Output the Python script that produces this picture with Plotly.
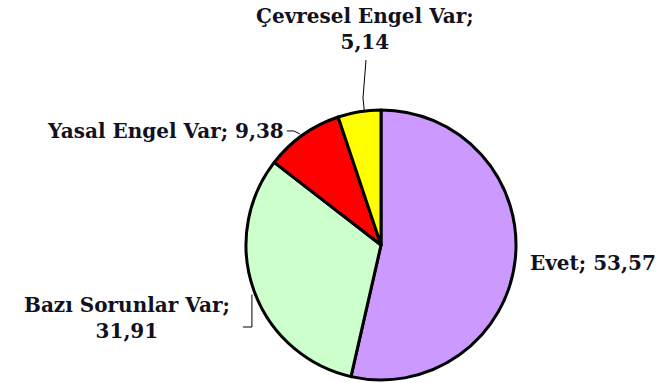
import math
import plotly.graph_objects as go

# Survey answers and their shares (%)
labels = ["Evet", "Bazı Sorunlar Var", "Yasal Engel Var", "Çevresel Engel Var"]
values = [53.57, 31.91, 9.38, 5.14]
value_text = ["53,57", "31,91", "9,38", "5,14"]
colors = ["#CC99FF", "#CCFFCC", "#FF0000", "#FFFF00"]

W, H = 659, 383
CX, CY, R = 381, 245, 135   # pie centre and radius in pixels


def px(x):
    return x / W


def py(y):
    return 1 - y / H


fig = go.Figure(go.Pie(
    labels=labels,
    values=values,
    sort=False,
    direction="clockwise",
    rotation=0,
    marker=dict(colors=colors, line=dict(color="black", width=3)),
    textinfo="none",
    hoverinfo="label+value",
    domain=dict(x=[px(CX - R), px(CX + R)], y=[py(CY + R), py(CY - R)]),
))


def edge_point(i):
    """Point on the rim at the middle of slice i (clockwise from 12 o'clock)."""
    total = sum(values)
    frac = (sum(values[:i]) + values[i] / 2) / total
    a = 2 * math.pi * frac
    return CX + R * math.sin(a), CY - R * math.cos(a)


def leader(points):
    d = "M " + " L ".join(f"{px(x)},{py(y)}" for x, y in points)
    return dict(type="path", path=d, xref="paper", yref="paper",
                line=dict(color="black", width=1))


font = dict(family="DejaVu Serif", size=20, color="#111122")

shapes = []
annotations = []

# Evet
ex, ey = edge_point(0)
annotations.append(dict(x=px(528), y=py(263), xref="paper", yref="paper",
                        text=f"<b>{labels[0]}; {value_text[0]}</b>",
                        showarrow=False, xanchor="left", yanchor="middle", font=font))

# Bazı Sorunlar Var
ex, ey = edge_point(1)
shapes.append(leader([(ex - 2, ey + 4), (ex - 2, 327), (ex - 11, 327)]))
annotations.append(dict(x=px(127), y=py(318), xref="paper", yref="paper",
                        text=f"<b>{labels[1]};<br>{value_text[1]}</b>",
                        showarrow=False, xanchor="center", yanchor="middle",
                        align="center", font=font))

# Yasal Engel Var
ex, ey = edge_point(2)
shapes.append(leader([(ex - 3, ey - 1), (ex - 9, ey - 4), (ex - 16, ey - 4)]))
annotations.append(dict(x=px(286), y=py(131), xref="paper", yref="paper",
                        text=f"<b>{labels[2]}; {value_text[2]}</b>",
                        showarrow=False, xanchor="right", yanchor="middle", font=font))

# Çevresel Engel Var
ex, ey = edge_point(3)
shapes.append(leader([(ex + 5, ey - 1), (363, 98), (366, 60)]))
annotations.append(dict(x=px(365), y=py(29), xref="paper", yref="paper",
                        text=f"<b>{labels[3]};<br>{value_text[3]}</b>",
                        showarrow=False, xanchor="center", yanchor="middle",
                        align="center", font=font))

fig.update_layout(
    width=W, height=H,
    margin=dict(l=0, r=0, t=0, b=0),
    paper_bgcolor="white",
    plot_bgcolor="white",
    showlegend=False,
    shapes=shapes,
    annotations=annotations,
)

fig.write_html("out.html")
